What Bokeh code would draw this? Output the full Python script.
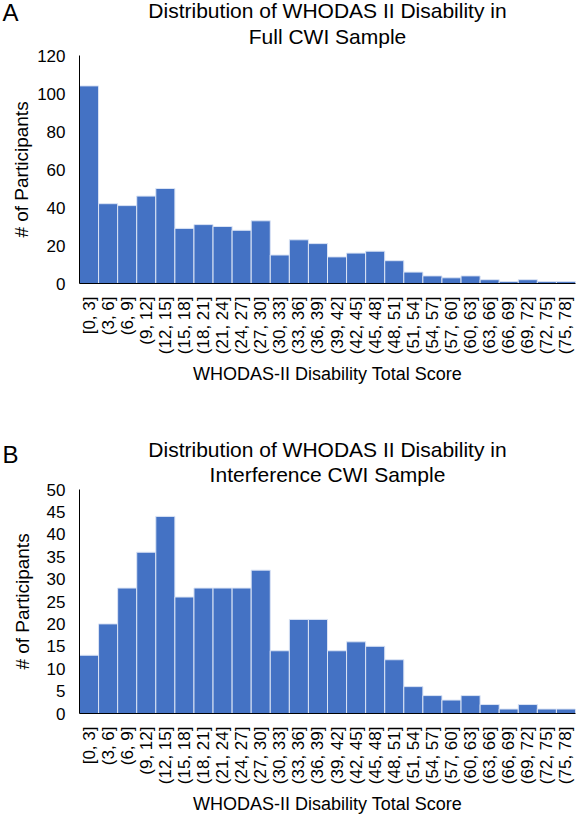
import math
from bokeh.plotting import figure
from bokeh.models import Range1d, FactorRange, FixedTicker, Title, ColumnDataSource
from bokeh.layouts import column
from bokeh.embed import file_html
from bokeh.resources import INLINE

score_bins = ["[0, 3]", "(3, 6]", "(6, 9]", "(9, 12]", "(12, 15]", "(15, 18]", "(18, 21]",
              "(21, 24]", "(24, 27]", "(27, 30]", "(30, 33]", "(33, 36]", "(36, 39]",
              "(39, 42]", "(42, 45]", "(45, 48]", "(48, 51]", "(51, 54]", "(54, 57]",
              "(57, 60]", "(60, 63]", "(63, 66]", "(66, 69]", "(69, 72]", "(72, 75]", "(75, 78]"]
full_counts = [104, 42, 41, 46, 50, 29, 31, 30, 28, 33, 15, 23, 21, 14, 16, 17, 12,
               6, 4, 3, 4, 2, 1, 2, 1, 1]
interference_counts = [13, 20, 28, 36, 44, 26, 28, 28, 28, 32, 14, 21, 21, 14, 16, 15, 12,
                       6, 4, 3, 4, 2, 1, 2, 1, 1]
full_ticks = [0, 20, 40, 60, 80, 100, 120]
interference_ticks = [0, 5, 10, 15, 20, 25, 30, 35, 40, 45, 50]

title_a = ["Distribution of WHODAS II Disability in", "Full CWI Sample"]
title_b = ["Distribution of WHODAS II Disability in", "Interference CWI Sample"]
x_title = "WHODAS-II Disability Total Score"
y_title = "# of Participants"

FONT = "Liberation Sans"
BAR = "#4472C4"


def panel(counts, ticks, titles, letter, height, top, bottom, ylab_standoff,
          t2_standoff, t1_standoff, letter_standoff):
    src = ColumnDataSource(dict(bin=score_bins, n=counts))
    p = figure(width=577, height=height, output_backend="svg", toolbar_location=None,
               x_range=FactorRange(factors=score_bins, range_padding=0),
               y_range=Range1d(0, ticks[-1]),
               min_border_left=79, min_border_right=2,
               min_border_top=top, min_border_bottom=bottom,
               outline_line_color=None, background_fill_color="white",
               border_fill_color="white")
    p.vbar(x="bin", top="n", width=1.0, source=src, fill_color=BAR,
           line_color="#dbe4f5", line_width=1)
    t2 = Title(text=titles[1], align="center", text_font=FONT, text_font_size="21px",
               text_font_style="normal", text_color="black", standoff=t2_standoff)
    t1 = Title(text=titles[0], align="center", text_font=FONT, text_font_size="21px",
               text_font_style="normal", text_color="black", standoff=t1_standoff)
    ta = Title(text=letter, align="left", offset=-77, text_font=FONT, text_font_size="24px",
               text_font_style="normal", text_color="black", standoff=letter_standoff)
    p.add_layout(t2, "above")
    p.add_layout(t1, "above")
    p.add_layout(ta, "above")

    p.grid.visible = False
    for ax in (p.xaxis[0], p.yaxis[0]):
        ax.axis_line_color = "black"
        ax.axis_line_width = 1
        ax.major_tick_line_color = None
        ax.minor_tick_line_color = None
        ax.major_label_text_font = FONT
        ax.major_label_text_color = "black"
        ax.axis_label_text_font = FONT
        ax.axis_label_text_font_style = "normal"
        ax.axis_label_text_color = "black"
    p.yaxis.ticker = FixedTicker(ticks=ticks)
    p.yaxis.major_label_text_font_size = "17px"
    p.yaxis.major_label_standoff = 8
    p.yaxis.axis_label = y_title
    p.yaxis.axis_label_text_font_size = "19px"
    p.yaxis.axis_label_standoff = ylab_standoff

    p.xaxis.major_label_orientation = math.pi / 2
    p.xaxis.major_label_text_font_size = "17px"
    p.xaxis.major_label_standoff = 7
    p.xaxis.axis_label = x_title
    p.xaxis.axis_label_text_font_size = "18px"
    p.xaxis.axis_label_standoff = 7
    return p


pa = panel(full_counts, full_ticks, title_a, "A", 420, 55, 137, 2, 15, -13, -45)
pb = panel(interference_counts, interference_ticks, title_b, "B", 397, 69, 104, 11, 8, -9, -54)

layout = column(pa, pb, spacing=0)
open("out.html", "w").write(file_html(layout, INLINE))
